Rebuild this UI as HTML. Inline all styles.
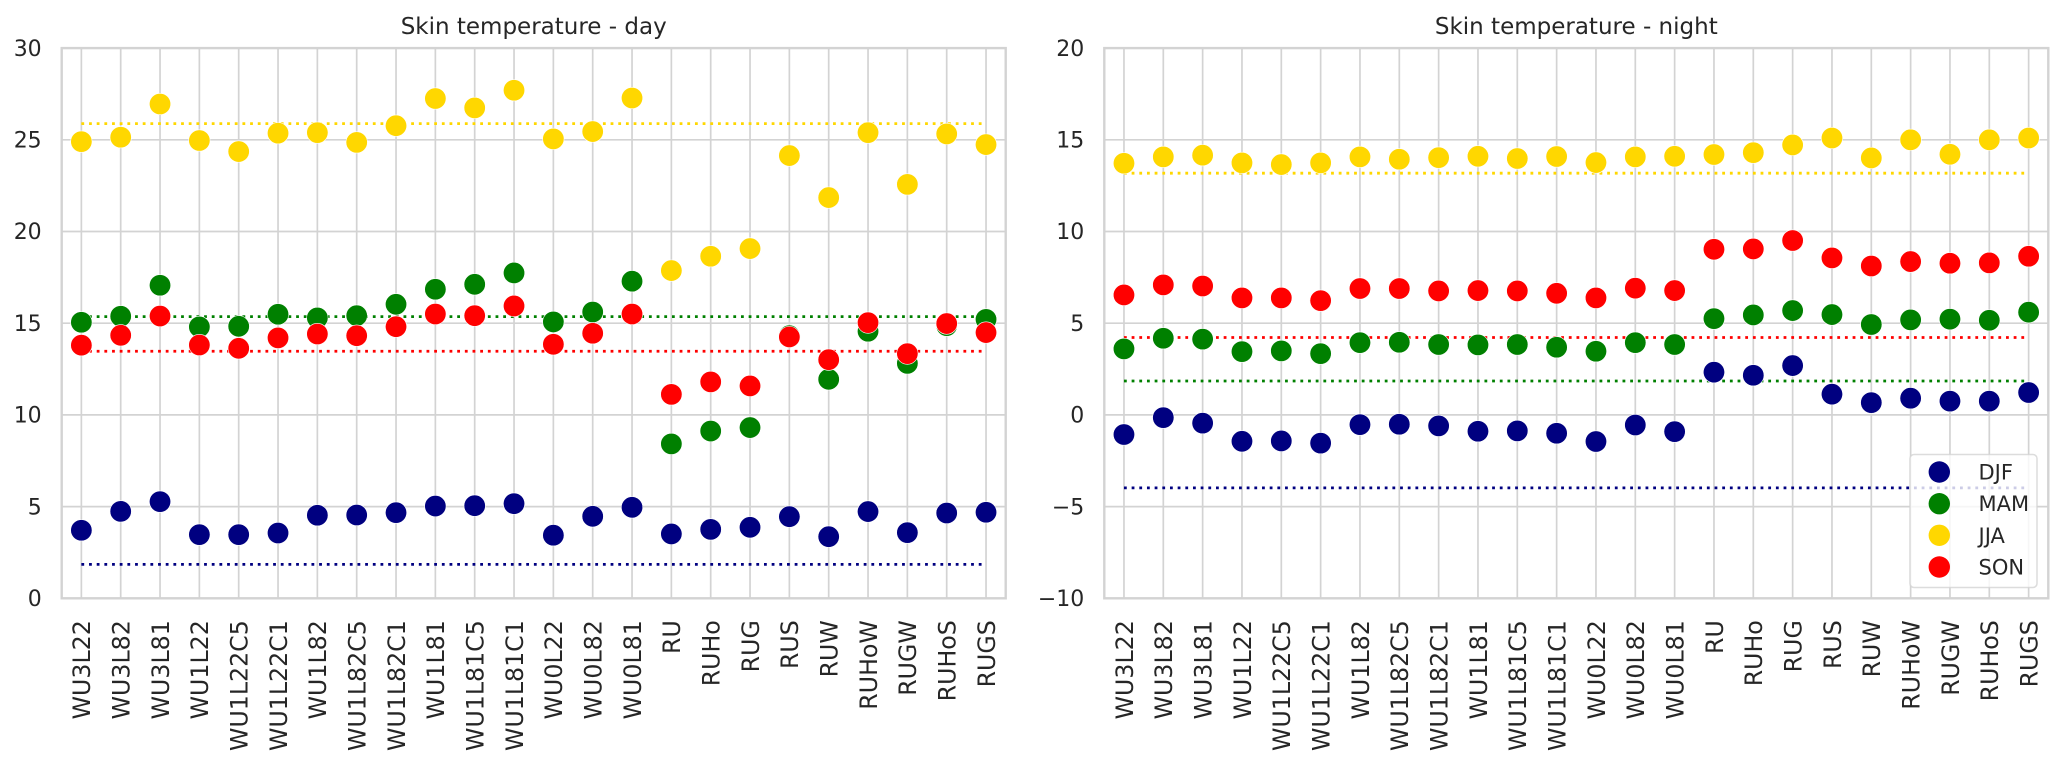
<!DOCTYPE html>
<html lang="en">
<head>
<meta charset="utf-8">
<title>Skin temperature - day and night</title>
<style>
html,body{margin:0;padding:0;background:#fff;width:2067px;height:769px;overflow:hidden}
svg{display:block}
text{font-family:"DejaVu Sans","Liberation Sans",sans-serif;fill:#262626}
</style>
</head>
<body>
<svg id="figure" xmlns="http://www.w3.org/2000/svg" width="2067" height="769" viewBox="0 0 2067 769">
  <g id="panel-day"></g>
  <g id="panel-night"></g>
  <text x="533.7" y="34" text-anchor="middle" font-size="23">Skin temperature - day</text>
  <text x="1576.3" y="34" text-anchor="middle" font-size="23">Skin temperature - night</text>
  <g>
    <rect x="1910" y="454.5" width="127" height="133" rx="4" fill="#fff" fill-opacity="0.8" stroke="#d3d3d3" stroke-opacity="0.8" stroke-width="1.5"></rect>
    <g><circle cx="1939.3" cy="472" r="10.7" fill="#000080"></circle><text x="1978.5" y="479.5" font-size="21">DJF</text></g>
    <g><circle cx="1939.3" cy="503.7" r="10.7" fill="#008000"></circle><text x="1978.5" y="511.2" font-size="21">MAM</text></g>
    <g><circle cx="1939.3" cy="535.3" r="10.7" fill="#ffd700"></circle><text x="1978.5" y="542.8" font-size="21">JJA</text></g>
    <g><circle cx="1939.3" cy="567" r="10.7" fill="#ff0000"></circle><text x="1978.5" y="574.5" font-size="21">SON</text></g>
  </g>
</svg>
<script>
const categories = ["WU3L22","WU3L82","WU3L81","WU1L22","WU1L22C5","WU1L22C1","WU1L82","WU1L82C5","WU1L82C1","WU1L81","WU1L81C5","WU1L81C1","WU0L22","WU0L82","WU0L81","RU","RUHo","RUG","RUS","RUW","RUHoW","RUGW","RUHoS","RUGS"];

const dayDJF = [3.71,4.74,5.27,3.47,3.47,3.56,4.53,4.54,4.67,5.03,5.05,5.16,3.44,4.47,4.96,3.51,3.76,3.87,4.45,3.36,4.73,3.58,4.65,4.69];
const dayMAM = [15.05,15.38,17.07,14.80,14.83,15.49,15.29,15.41,16.03,16.85,17.12,17.74,15.07,15.61,17.29,8.42,9.12,9.31,14.32,11.94,14.56,12.81,14.87,15.21];
const dayJJA = [24.90,25.14,26.95,24.96,24.36,25.36,25.39,24.86,25.77,27.25,26.74,27.70,25.05,25.45,27.28,17.87,18.65,19.07,24.14,21.85,25.39,22.57,25.32,24.74];
const daySON = [13.80,14.34,15.39,13.81,13.63,14.20,14.41,14.32,14.81,15.50,15.41,15.94,13.85,14.45,15.50,11.12,11.80,11.58,14.25,13.01,15.03,13.34,14.98,14.49];
const dayRefDJF = 1.85;
const dayRefMAM = 15.36;
const dayRefJJA = 25.88;
const dayRefSON = 13.47;

const nightDJF = [-1.07,-0.15,-0.45,-1.44,-1.42,-1.54,-0.53,-0.51,-0.60,-0.89,-0.87,-1.00,-1.45,-0.55,-0.91,2.33,2.16,2.69,1.13,0.67,0.91,0.75,0.75,1.22];
const nightMAM = [3.60,4.18,4.13,3.45,3.49,3.34,3.94,3.96,3.84,3.82,3.84,3.69,3.47,3.94,3.84,5.25,5.45,5.69,5.47,4.93,5.18,5.22,5.16,5.60];
const nightJJA = [13.72,14.07,14.16,13.74,13.65,13.74,14.07,13.94,14.03,14.10,13.98,14.09,13.76,14.07,14.10,14.20,14.30,14.72,15.10,14.01,15.00,14.21,15.00,15.10];
const nightSON = [6.54,7.09,7.03,6.38,6.38,6.23,6.89,6.89,6.76,6.78,6.76,6.63,6.38,6.91,6.78,9.03,9.05,9.51,8.56,8.12,8.36,8.27,8.29,8.65];
const nightRefDJF = -3.98;
const nightRefMAM = 1.85;
const nightRefJJA = 13.18;
const nightRefSON = 4.22;

const dayTicks = [0,5,10,15,20,25,30];
const nightTicks = [-10,-5,0,5,10,15,20];

const NS = "http://www.w3.org/2000/svg";
const GRID = "#d3d3d3";
const PLOT_TOP = 48.1;
const PLOT_BOTTOM = 598.3;
const PLOT_WIDTH = 944;

function svgEl(parent, tag, attrs) {
  const el = document.createElementNS(NS, tag);
  for (const k in attrs) el.setAttribute(k, attrs[k]);
  parent.appendChild(el);
  return el;
}

function drawPanel(panelId, prefix, left, ticks, seriesList) {
  const panel = document.getElementById(panelId);
  const yMin = ticks[0];
  const yMax = ticks[ticks.length - 1];
  const xScale = i => left + (i + 0.5) * PLOT_WIDTH / categories.length;
  const yScale = v => PLOT_BOTTOM - (v - yMin) / (yMax - yMin) * (PLOT_BOTTOM - PLOT_TOP);

  categories.forEach((name, i) => {
    const x = xScale(i);
    const grid = svgEl(panel, "line", {x1: x, x2: x, y1: PLOT_TOP, y2: PLOT_BOTTOM, stroke: GRID, "stroke-width": 1.7});
    
    
    const label = svgEl(panel, "text", {transform: "translate(" + (x + 8.8) + " 620.2) rotate(-90)", "text-anchor": "end", "font-size": 23.7});
    label.textContent = name;
    
    
  });

  ticks.forEach(t => {
    const y = yScale(t);
    const grid = svgEl(panel, "line", {x1: left, x2: left + PLOT_WIDTH, y1: y, y2: y, stroke: GRID, "stroke-width": 1.7});
    
    
    const label = svgEl(panel, "text", {x: left - 20, y: y + 7.7, "text-anchor": "end", "font-size": 22});
    label.textContent = String(t).replace("-", "\u2212");
    
    
  });

  seriesList.forEach(s => {
    const line = svgEl(panel, "line", {x1: xScale(0), x2: xScale(categories.length - 1), y1: yScale(s.ref), y2: yScale(s.ref), stroke: s.color, "stroke-width": 2.8, "stroke-dasharray": "2.8 4.87"});
    
    
  });

  seriesList.forEach(s => {
    const group = svgEl(panel, "g", {});
    
    
    s.values.forEach((v, i) => {
      const dot = svgEl(group, "circle", {cx: xScale(i), cy: yScale(v), r: 10.7, fill: s.color, stroke: "#fff", "stroke-width": 0.6});
      
      
    });
  });

  const frame = svgEl(panel, "rect", {x: left, y: PLOT_TOP, width: PLOT_WIDTH, height: PLOT_BOTTOM - PLOT_TOP, fill: "none", stroke: GRID, "stroke-width": 2.4});
  
  
}

drawPanel("panel-day", "day", 61.7, dayTicks, [
  {key: "djf", color: "#000080", values: dayDJF, ref: dayRefDJF},
  {key: "mam", color: "#008000", values: dayMAM, ref: dayRefMAM},
  {key: "jja", color: "#ffd700", values: dayJJA, ref: dayRefJJA},
  {key: "son", color: "#ff0000", values: daySON, ref: dayRefSON}
]);
drawPanel("panel-night", "night", 1104.3, nightTicks, [
  {key: "djf", color: "#000080", values: nightDJF, ref: nightRefDJF},
  {key: "mam", color: "#008000", values: nightMAM, ref: nightRefMAM},
  {key: "jja", color: "#ffd700", values: nightJJA, ref: nightRefJJA},
  {key: "son", color: "#ff0000", values: nightSON, ref: nightRefSON}
]);
</script>
</body>
</html>
